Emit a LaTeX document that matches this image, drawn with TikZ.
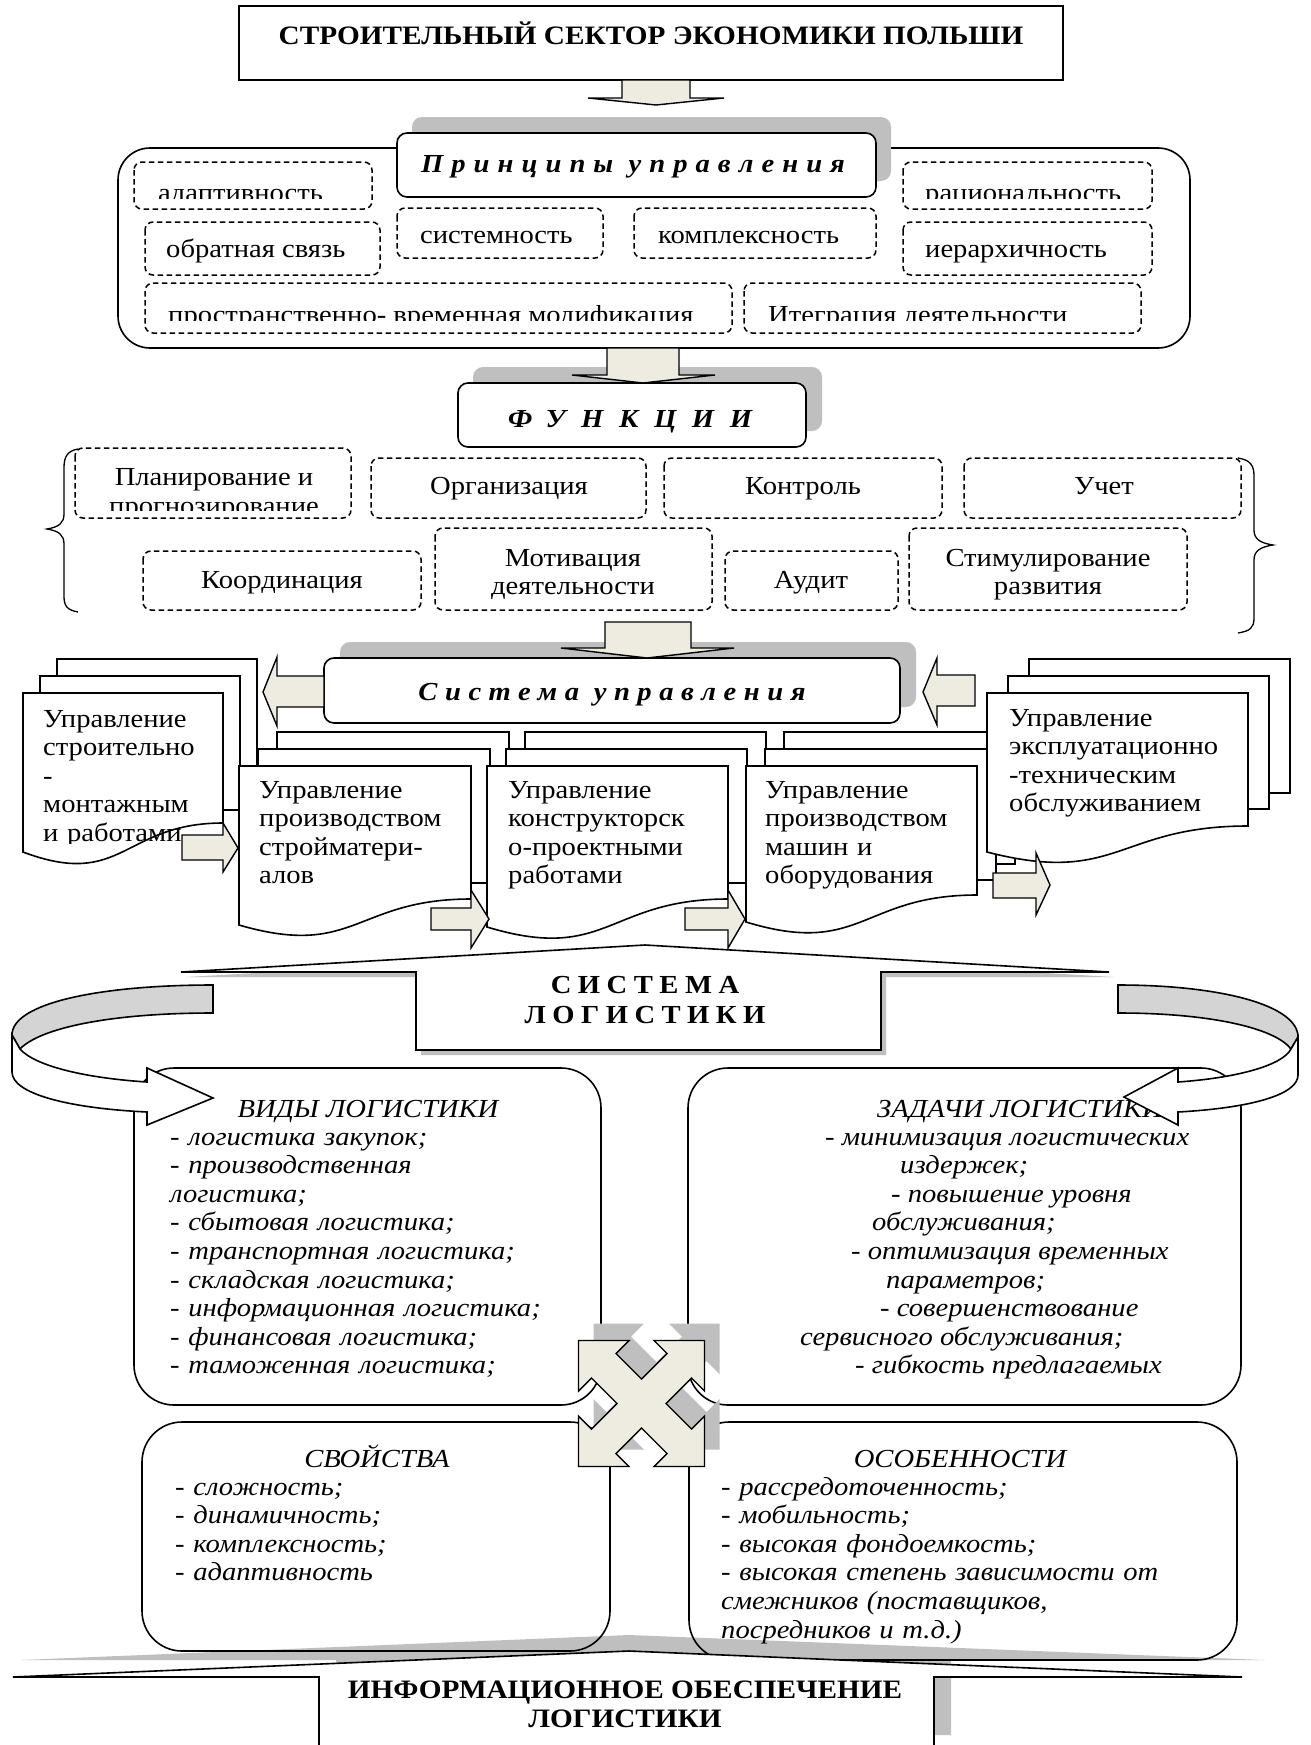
\documentclass[tikz,border=0pt]{standalone}
\usepackage{fontspec}
\setmainfont{Liberation Serif}[FakeStretch=1.1]
\newfontfamily\spfont{Liberation Serif}[FakeStretch=1.1]
\newcommand\fsz{\fontsize{26}{28.6}\selectfont}
\newcommand\fszb{\fontsize{26.6}{29}\selectfont}
\definecolor{beige}{HTML}{EEECE1}
\definecolor{shgray}{HTML}{BFBFBF}
\definecolor{bandgray}{HTML}{D4D4D4}
% #1 xl #2 yt #3 xr #4 yr #5 yl #6 d #7 e #8 mid-bottom #9 back-bottom
\newcommand\docstack[9]{%
  \draw[wbox] ({#1+2*#6},{#2-2*#7}) rectangle ({#3+2*#6},#9);
  \draw[wbox] ({#1+#6},{#2-#7}) rectangle ({#3+#6},#8);
  \draw[wbox] (#1,#2) -- (#3,#2) -- (#3,#4) .. controls ({(#1+#3)/2},#4) and ({(#1+#3)/2},{#5+1.3*(#5-#4)}) .. (#1,#5) -- cycle;
}
\newcommand\xshape[1]{\path[#1] (-63,-63) -- (-12.5,-63) -- (-25.5,-50) -- (0,-24.5) -- (25.5,-50) -- (12.5,-63) -- (63,-63) -- (63,-12.5) -- (50,-25.5) -- (24.5,0) -- (50,25.5) -- (63,12.5) -- (63,63) -- (12.5,63) -- (25.5,50) -- (0,24.5) -- (-25.5,50) -- (-12.5,63) -- (-63,63) -- (-63,12.5) -- (-50,25.5) -- (-24.5,0) -- (-50,-25.5) -- (-63,-12.5) -- cycle;}
\begin{document}
\begin{tikzpicture}[x=1pt,y=-1pt,
  ol/.style={draw=black,line width=1.6pt},
  wbox/.style={ol,fill=white},
  dbox/.style={draw=black,line width=1.5pt,dash pattern=on 5.5pt off 3.5pt,rounded corners=8pt},
  blk/.style={draw=black,fill=beige,line width=1.4pt,line join=miter},
  t/.style={inner sep=0pt,font=\fsz},
  tb/.style={t,anchor=base},
  tw/.style={t,anchor=base west},
  ml/.style={tw,text width=440pt,align=left},
  it/.style={font={\fsz\itshape}},
  bf/.style={font={\fszb\bfseries}}]
\clip (0,0) rectangle (1311,1745);
\fill[white] (0,0) rectangle (1311,1745);

% ---------- top box
\draw[wbox] (239,6) rectangle (1063,80);
\node[tb,bf] (title) at (651,45) {СТРОИТЕЛЬНЫЙ СЕКТОР ЭКОНОМИКИ ПОЛЬШИ};
\draw[blk] (622,80) -- (690,80) -- (690,98) -- (724,98) -- (656,105) -- (588,98) -- (622,98) -- cycle;

% ---------- principles
\draw[ol,rounded corners=32pt] (118,148) rectangle (1190,348);
\fill[shgray,rounded corners=10pt] (412,117) rectangle (891,181);
\draw[wbox,rounded corners=10pt] (397,133) rectangle (876,197);
\node[tb] (princ) at (633,172) {\spfont\bfseries\itshape\addfontfeatures{LetterSpace=31}Принципы управления};

\draw[dbox] (134,162) rectangle (372,209);
\begin{scope}\clip (134,162) rectangle (372,198);
\node[tw] (p1) at (158,201) {адаптивность};\end{scope}
\draw[dbox] (903,162) rectangle (1152,209);
\begin{scope}\clip (903,162) rectangle (1152,198);
\node[tw] (p2) at (925,201) {рациональность};\end{scope}
\draw[dbox] (145,222) rectangle (380,275);
\node[tw] (p3) at (166,257) {обратная связь};
\draw[dbox] (397,208) rectangle (603,258);
\node[tw] (p4) at (420,243) {системность};
\draw[dbox] (634,208) rectangle (876,258);
\node[tw] (p5) at (658,243) {комплексность};
\draw[dbox] (903,222) rectangle (1152,275);
\node[tw] (p6) at (925,257) {иерархичность};
\draw[dbox] (145,283) rectangle (732,333);
\begin{scope}\clip (145,283) rectangle (732,320);
\node[tw] (p7) at (168,323) {пространственно- временная модификация};\end{scope}
\draw[dbox] (744,283) rectangle (1141,333);
\begin{scope}\clip (744,283) rectangle (1141,320);
\node[tw] (p8) at (768,323) {Итеграция деятельности};\end{scope}

% ---------- functions
\fill[shgray,rounded corners=10pt] (473,367) rectangle (822,431);
\draw[wbox,rounded corners=10pt] (458,383) rectangle (806,447);
\draw[blk] (607,348) -- (679,348) -- (679,375) -- (715,375) -- (643,383) -- (572,375) -- (607,375) -- cycle;
\node[tb] (func) at (630,427) {\spfont\bfseries\itshape\addfontfeatures{LetterSpace=60}ФУНКЦИИ};

\draw[line width=1.3pt] (78,449) .. controls (67,451) and (64,457) .. (64,468) -- (64,514) .. controls (64,523) and (59,527) .. (47,529) .. controls (59,531) and (64,535) .. (64,544) -- (64,596) .. controls (64,606) and (67,610) .. (78,612);
\draw[line width=1.3pt] (1238,458) .. controls (1250,460) and (1254,465) .. (1254,476) -- (1254,530) .. controls (1254,539) and (1260,543) .. (1273,545) .. controls (1260,547) and (1254,551) .. (1254,560) -- (1254,618) .. controls (1254,628) and (1250,631) .. (1238,633);

\draw[dbox] (75,448) rectangle (351,518);
\node[tb] (f1) at (214,485) {Планирование и};
\begin{scope}\clip (75,448) rectangle (351,510);
\node[tb] (f1b) at (214,514) {прогнозирование};\end{scope}
\draw[dbox] (371,458) rectangle (646,518);
\node[tb] (f2) at (509,494) {Организация};
\draw[dbox] (664,458) rectangle (942,518);
\node[tb] (f3) at (803,494) {Контроль};
\draw[dbox] (964,458) rectangle (1241,518);
\node[tb] (f4) at (1104,494) {Учет};
\draw[dbox] (143,551) rectangle (421,610);
\node[tb] (f5) at (282,588) {Координация};
\draw[dbox] (435,528) rectangle (712,610);
\node[tb] (f6) at (573,566) {Мотивация};
\node[tb] (f6b) at (573,594) {деятельности};
\draw[dbox] (725,551) rectangle (898,610);
\node[tb] (f7) at (811,588) {Аудит};
\draw[dbox] (909,528) rectangle (1187,610);
\node[tb] (f8) at (1048,566) {Стимулирование};
\node[tb] (f8b) at (1048,594) {развития};

% ---------- management system
\fill[shgray,rounded corners=10pt] (340,642) rectangle (916,707);
\draw[wbox,rounded corners=10pt] (324,658) rectangle (900,723);
\draw[blk] (605,622) -- (691,622) -- (691,648) -- (734,648) -- (647,658) -- (561,648) -- (605,648) -- cycle;
\node[tb] (sys) at (612,700) {\spfont\bfseries\itshape\addfontfeatures{LetterSpace=29}Система управления};

% ---------- document stacks
\docstack{23}{693}{223}{823}{852}{17}{17}{810}{795}
\begin{scope}\clip (23,693) rectangle (223,843);
\node[ml] (s1) at (43,727) {Управление\\строительно\\-\\монтажным\\и работами};\end{scope}
\docstack{239}{766}{471}{899}{925}{19}{17}{883}{866}
\node[ml] (s2) at (259,798) {Управление\\производством\\стройматери-\\алов};
\docstack{487}{766}{728}{899}{927}{19}{17}{883}{866}
\node[ml] (s3) at (508,798) {Управление\\конструкторск\\о-проектными\\работами};
\docstack{746}{766}{977}{895}{922}{19}{17}{880}{864}
\node[ml] (s4) at (765,798) {Управление\\производством\\машин и\\оборудования};
\docstack{987}{693}{1248}{826}{852}{21}{17}{809}{793}
\node[ml] (s5) at (1009,726) {Управление\\эксплуатационно\\-техническим\\обслуживанием};

\draw[blk] (324,676) -- (277,676) -- (277,657) -- (263,692) -- (277,726) -- (277,707) -- (324,707) -- cycle;
\draw[blk] (975,675) -- (937,675) -- (937,658) -- (923,692) -- (937,725) -- (937,706) -- (975,706) -- cycle;
\draw[blk] (182,835) -- (223,835) -- (223,823) -- (238,848) -- (223,872) -- (223,860) -- (182,860) -- cycle;
\draw[blk] (431,908) -- (471,908) -- (471,890) -- (489,919) -- (471,948) -- (471,930) -- (431,930) -- cycle;
\draw[blk] (685,908) -- (728,908) -- (728,890) -- (745,919) -- (728,948) -- (728,930) -- (685,930) -- cycle;
\draw[blk] (993,873) -- (1036,873) -- (1036,853) -- (1050,885) -- (1036,915) -- (1036,898) -- (993,898) -- cycle;

% ---------- logistics system callout
\fill[shgray] (421,1055) -- (421,977) -- (186,977) -- (650,950) -- (1114,977) -- (886,977) -- (886,1055) -- cycle;
\draw[wbox] (416,1050) -- (416,972) -- (181,972) -- (645,945) -- (1109,972) -- (881,972) -- (881,1050) -- cycle;
\node[tb] (ls1) at (645,993) {\bfseries\addfontfeatures{LetterSpace=25}СИСТЕМА};
\node[tb] (ls2) at (645,1023) {\bfseries\addfontfeatures{LetterSpace=25}ЛОГИСТИКИ};

% ---------- upper boxes
\draw[wbox,rounded corners=40pt] (134,1068) rectangle (601,1405);
\node[tb,it] (vh) at (368,1117) {ВИДЫ ЛОГИСТИКИ};
\node[ml,it] (vl) at (170,1145) {- логистика закупок;\\- производственная\\логистика;\\- сбытовая логистика;\\- транспортная логистика;\\- складская логистика;\\- информационная логистика;\\- финансовая логистика;\\- таможенная логистика;};
\draw[wbox,rounded corners=40pt] (688,1068) rectangle (1241,1405);
\node[tb,it] (zh) at (1020,1117) {ЗАДАЧИ ЛОГИСТИКИ};
\foreach \xx/\yy/\tt [count=\i] in {825/1145/- минимизация логистических, 900/1173.6/издержек;, 891/1202.2/- повышение уровня, 872/1230.8/обслуживания;, 851/1259.4/- оптимизация временных, 886/1288/параметров;, 880/1316.6/- совершенствование, 800/1345.2/сервисного обслуживания;, 855/1373.8/- гибкость предлагаемых}
  {\node[tw,it] (z\i) at (\xx,\yy) {\tt};}

% ---------- curved arrows
\draw[ol,fill=bandgray] (213,985) .. controls (100,985) and (12,1003) .. (12,1035) -- (20,1049) .. controls (40,1028) and (110,1013) .. (213,1013) -- cycle;
\draw[wbox,line join=miter] (12,1035) -- (12,1072) .. controls (12,1093) and (65,1108) .. (147,1112) -- (147,1125) -- (213,1098) -- (147,1068) -- (147,1082) .. controls (85,1078) and (35,1066) .. (20,1049) -- cycle;
\draw[ol,fill=bandgray] (1118,985) .. controls (1220,985) and (1298,1005) .. (1298,1037) -- (1291,1049) .. controls (1275,1028) and (1210,1013) .. (1118,1013) -- cycle;
\draw[wbox,line join=miter] (1298,1037) -- (1298,1075) .. controls (1298,1095) and (1250,1108) .. (1178,1112) -- (1178,1125) -- (1124,1097) -- (1178,1068) -- (1178,1082) .. controls (1235,1078) and (1282,1066) .. (1291,1049) -- cycle;

% ---------- lower boxes and info callout
\fill[white,rounded corners=40pt] (142,1422) rectangle (610,1651);
\fill[white,rounded corners=40pt] (689,1422) rectangle (1237,1660);
\fill[shgray] (21,1660) -- (629,1635) -- (1265,1660) -- (951,1660) -- (951,1735) -- (336,1735) -- (336,1660) -- cycle;
\draw[ol,rounded corners=40pt] (142,1422) rectangle (610,1651);
\draw[ol,rounded corners=40pt] (689,1422) rectangle (1237,1660);
\node[tb,it] (sh) at (377,1467) {СВОЙСТВА};
\node[ml,it] (sl) at (175,1495) {- сложность;\\- динамичность;\\- комплексность;\\- адаптивность};
\node[tb,it] (oh) at (960,1467) {ОСОБЕННОСТИ};
\node[ml,it,text width=520pt] (ol) at (721,1495) {- рассредоточенность;\\- мобильность;\\- высокая фондоемкость;\\- высокая степень зависимости от\\смежников (поставщиков,\\посредников и т.д.)};
\draw[wbox] (319,1760) -- (319,1677) -- (13,1677) -- (629,1651) -- (1242,1677) -- (934,1677) -- (934,1760) -- cycle;
\node[tb,bf] (inf1) at (625,1698) {ИНФОРМАЦИОННОЕ ОБЕСПЕЧЕНИЕ};
\node[tb,bf] (inf2) at (625,1727) {ЛОГИСТИКИ};

% ---------- four-way arrow
\begin{scope}[shift={(656.5,1386.5)}]\xshape{fill=shgray}\end{scope}
\begin{scope}[shift={(641.5,1403.5)}]\xshape{blk}\end{scope}
\end{tikzpicture}
\end{document}
